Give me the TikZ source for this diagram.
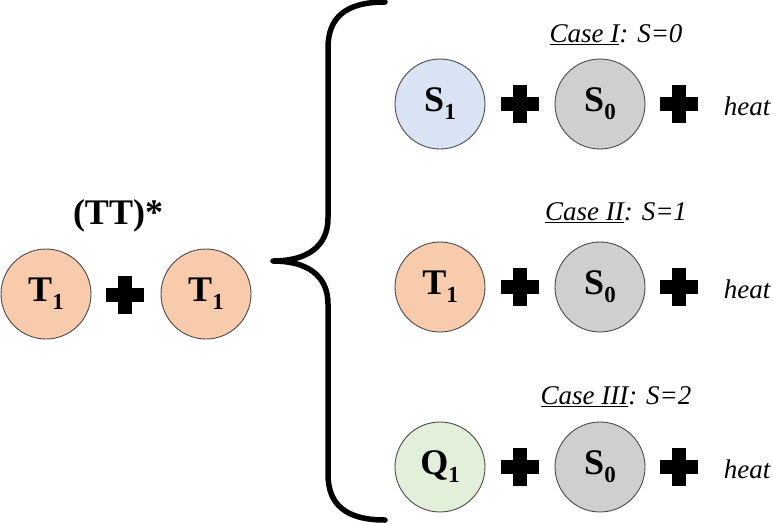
\documentclass[tikz,border=0pt]{standalone}
\usepackage{fontspec}
\setmainfont{Liberation Serif}
\newcommand{\lowidx}[1]{\raisebox{-0.22em}{\fontsize{23}{23}\selectfont #1}}
\definecolor{peach}{HTML}{F8CBAD}
\definecolor{lblue}{HTML}{DAE3F3}
\definecolor{lgray}{HTML}{D0CECE}
\definecolor{lgreen}{HTML}{E2F0D9}
\definecolor{rim}{HTML}{4A4A4A}
\tikzset{
  state/.style={circle, draw=rim, line width=0.9pt, minimum size=90pt, inner sep=0pt,
    font=\fontsize{36}{36}\selectfont\bfseries},
  caselbl/.style={font=\fontsize{27}{27}\selectfont\itshape, inner sep=0pt},
  heatlbl/.style={font=\fontsize{27}{27}\selectfont\itshape, inner sep=0pt},
  ttlbl/.style={font=\fontsize{36}{36}\selectfont\bfseries, inner sep=0pt},
  brace/.style={line width=5.5pt, line cap=round, line join=round},
  plus/.pic={\fill[black] (-19,-7) rectangle (19,7); \fill[black] (-7,-19) rectangle (7,19);}
}
\begin{document}
\begin{tikzpicture}[x=1pt,y=-1pt]
\useasboundingbox (0,0) rectangle (773,523);
% left
\node[ttlbl] (tt) at (118,216) {(TT)*};
\node[state, fill=peach] (ta) at (46,294) {T\lowidx{1}};
\node[state, fill=peach] (tb) at (206,294) {T\lowidx{1}};
\pic at (125,295) {plus};
% brace
\coordinate (btop) at (385,2);
\coordinate (btip) at (273,261);
\coordinate (bbot) at (385,520);
\draw[brace] (btop) .. controls (345,2) and (328,18) .. (328,48)
  -- (328,218) .. controls (328,248) and (305,261) .. (btip)
  .. controls (305,261) and (328,274) .. (328,304)
  -- (328,474) .. controls (328,504) and (345,520) .. (bbot);
% case I
\node[caselbl] (c1) at (616,35) {\underline{Case I}: S=0};
\node[state, fill=lblue] (s1) at (440,104) {S\lowidx{1}};
\node[state, fill=lgray] (s0a) at (600,104) {S\lowidx{0}};
\pic at (520,104) {plus};
\pic at (679,104) {plus};
\node[heatlbl] (h1) at (747,106) {heat};
% case II
\node[caselbl] (c2) at (616,213) {\underline{Case II}: S=1};
\node[state, fill=peach] (t1) at (440,287) {T\lowidx{1}};
\node[state, fill=lgray] (s0b) at (600,287) {S\lowidx{0}};
\pic at (520,287) {plus};
\pic at (679,287) {plus};
\node[heatlbl] (h2) at (747,289) {heat};
% case III
\node[caselbl] (c3) at (616,397) {\underline{Case III}: S=2};
\node[state, fill=lgreen] (q1) at (440,467) {Q\lowidx{1}};
\node[state, fill=lgray] (s0c) at (600,467) {S\lowidx{0}};
\pic at (520,467) {plus};
\pic at (679,467) {plus};
\node[heatlbl] (h3) at (747,469) {heat};
\end{tikzpicture}
\end{document}
